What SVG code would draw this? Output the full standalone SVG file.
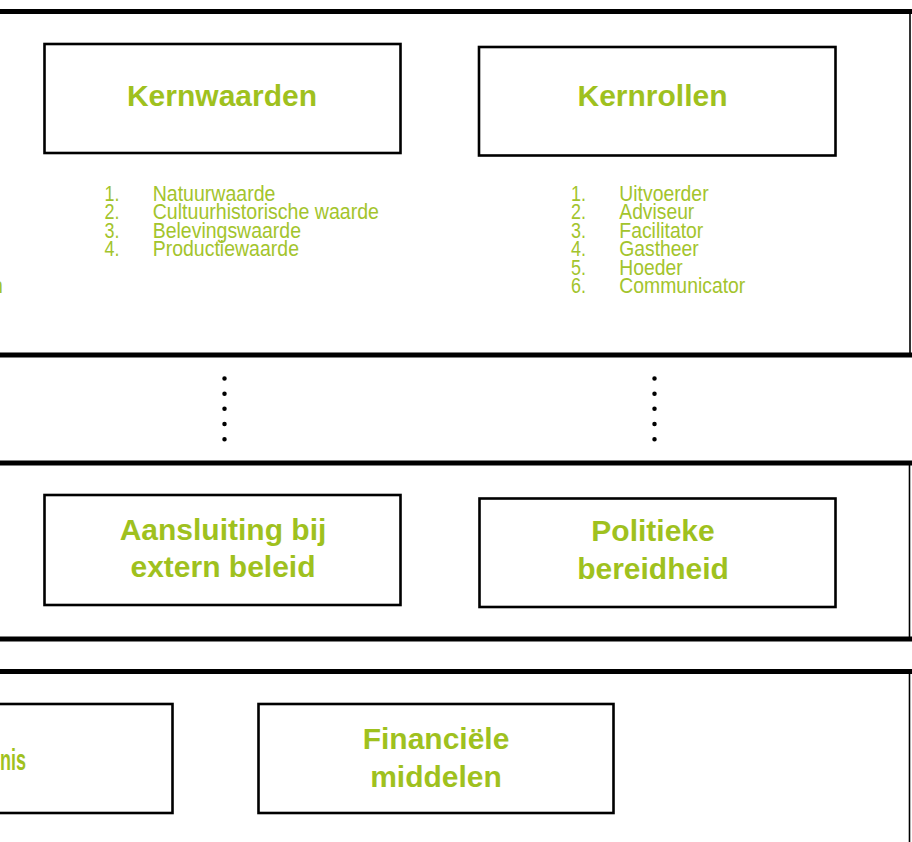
<svg xmlns="http://www.w3.org/2000/svg" width="912" height="842" viewBox="0 0 912 842">
<defs>
<style>
.bg{fill:#ffffff}
.panelH{stroke:#000;stroke-width:5;fill:none}
.panelV{stroke:#000;stroke-width:1.6;fill:none}
.box{fill:#fff;stroke:#000;stroke-width:2.6}
.head{font-family:"Liberation Sans",Arial,sans-serif;font-weight:bold;font-size:30px;fill:#9fc11e;text-anchor:middle}
.list{font-family:"Liberation Sans",Arial,sans-serif;font-size:21.5px;fill:#a3c42c}
.dots{stroke:#000;stroke-width:4.5;stroke-linecap:round;stroke-dasharray:0 15.17;fill:none}
</style>
</defs>
<rect class="bg" x="0" y="0" width="912" height="842"/>

<g id="panels">
  <line class="panelH" x1="0" y1="11.5" x2="912" y2="11.5"/>
  <line class="panelV" x1="910" y1="11.5" x2="910" y2="355"/>
  <line class="panelH" x1="0" y1="355" x2="912" y2="355"/>
  <line class="panelH" x1="0" y1="463" x2="912" y2="463"/>
  <line class="panelV" x1="909.5" y1="463" x2="909.5" y2="639"/>
  <line class="panelH" x1="0" y1="639" x2="912" y2="639"/>
  <line class="panelH" x1="0" y1="671.5" x2="912" y2="671.5"/>
  <line class="panelV" x1="909.5" y1="671.5" x2="909.5" y2="842"/>
</g>

<g id="connectors">
  <path class="dots" d="M224.5,378.5 V440"/>
  <path class="dots" d="M654.5,378.5 V440"/>
</g>

<g id="kernwaarden">
  <rect class="box" x="44.5" y="44" width="356" height="109"/>
  <text class="head" x="222" y="106">Kernwaarden</text>
</g>

<g id="kernwaarden-lijst" class="list">
  <text x="104.5" y="200.5" textLength="15" lengthAdjust="spacingAndGlyphs">1.</text>
  <text x="152.7" y="200.5" textLength="122.7" lengthAdjust="spacingAndGlyphs">Natuurwaarde</text>
  <text x="104.5" y="219" textLength="15" lengthAdjust="spacingAndGlyphs">2.</text>
  <text x="152.7" y="219" textLength="226.3" lengthAdjust="spacingAndGlyphs">Cultuurhistorische waarde</text>
  <text x="104.5" y="237.5" textLength="15" lengthAdjust="spacingAndGlyphs">3.</text>
  <text x="152.7" y="237.5" textLength="148.3" lengthAdjust="spacingAndGlyphs">Belevingswaarde</text>
  <text x="104.5" y="256" textLength="15" lengthAdjust="spacingAndGlyphs">4.</text>
  <text x="152.7" y="256" textLength="146.3" lengthAdjust="spacingAndGlyphs">Productiewaarde</text>
</g>

<g id="links-fragment" class="list">
  <text x="3" y="293" text-anchor="end">n</text>
</g>

<g id="kernrollen">
  <rect class="box" x="479" y="47" width="356.5" height="108.5"/>
  <text class="head" x="652.5" y="106">Kernrollen</text>
</g>

<g id="kernrollen-lijst" class="list">
  <text x="571" y="200.5" textLength="15" lengthAdjust="spacingAndGlyphs">1.</text>
  <text x="619.3" y="200.5" textLength="89.3" lengthAdjust="spacingAndGlyphs">Uitvoerder</text>
  <text x="571" y="219" textLength="15" lengthAdjust="spacingAndGlyphs">2.</text>
  <text x="619.3" y="219" textLength="75" lengthAdjust="spacingAndGlyphs">Adviseur</text>
  <text x="571" y="237.5" textLength="15" lengthAdjust="spacingAndGlyphs">3.</text>
  <text x="619.3" y="237.5" textLength="84" lengthAdjust="spacingAndGlyphs">Facilitator</text>
  <text x="571" y="256" textLength="15" lengthAdjust="spacingAndGlyphs">4.</text>
  <text x="619.3" y="256" textLength="79.3" lengthAdjust="spacingAndGlyphs">Gastheer</text>
  <text x="571" y="274.5" textLength="15" lengthAdjust="spacingAndGlyphs">5.</text>
  <text x="619.3" y="274.5" textLength="63.3" lengthAdjust="spacingAndGlyphs">Hoeder</text>
  <text x="571" y="293" textLength="15" lengthAdjust="spacingAndGlyphs">6.</text>
  <text x="619.3" y="293" textLength="126" lengthAdjust="spacingAndGlyphs">Communicator</text>
</g>

<g id="aansluiting">
  <rect class="box" x="44.5" y="495" width="356" height="110"/>
  <text class="head" x="223" y="539.5">Aansluiting bij</text>
  <text class="head" x="223" y="577">extern beleid</text>
</g>

<g id="politieke">
  <rect class="box" x="479.5" y="498.5" width="356" height="108.5"/>
  <text class="head" x="653" y="541">Politieke</text>
  <text class="head" x="653" y="578.5">bereidheid</text>
</g>

<g id="kennis">
  <rect class="box" x="-20" y="704" width="192.5" height="109"/>
  <text class="head" x="0" y="770" style="text-anchor:start" textLength="26" lengthAdjust="spacingAndGlyphs">nis</text>
</g>

<g id="financiele">
  <rect class="box" x="258.5" y="704" width="355" height="109"/>
  <text class="head" x="436" y="749">Financiële</text>
  <text class="head" x="436" y="786.5">middelen</text>
</g>
</svg>
